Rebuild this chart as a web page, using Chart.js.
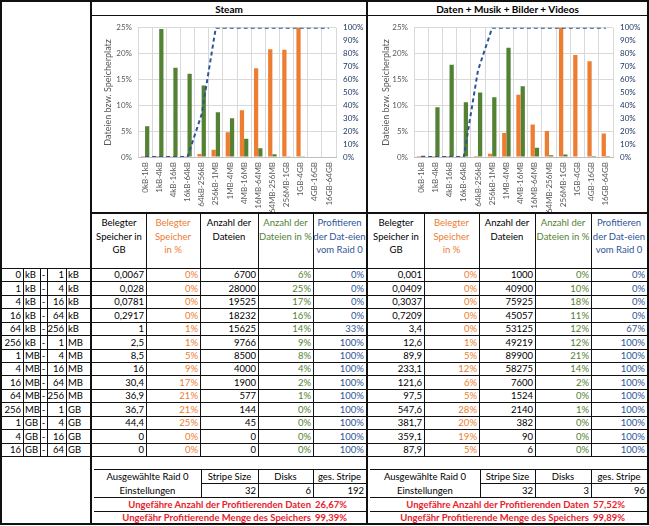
<!DOCTYPE html>
<html>
<head>
<meta charset="utf-8">
<script src="https://cdn.jsdelivr.net/npm/chart.js@4.4.0/dist/chart.umd.min.js"></script>
<style>
  body { margin: 0; background: #fff; font-family: Lato, sans-serif; }
  #sheet { position: relative; width: 649px; height: 526px; overflow: hidden; background: #fff; }
  .ln { position: absolute; background: #111; }
  .tx { position: absolute; box-sizing: border-box; display: flex; align-items: center;
        font-size: 9.5px; white-space: nowrap; color: #000; padding: 0 2px; }
  .hd { position: absolute; box-sizing: border-box; text-align: center; font-size: 9.5px;
        line-height: 13.5px; padding-top: 3px; white-space: nowrap; }
  canvas { position: absolute; }
</style>
</head>
<body>
<div id="sheet"></div>
<script>
// size classes (x axis categories + left table columns)
const categories = ['0kB-1kB', '1kB-4kB', '4kB-16kB', '16kB-64kB', '64kB-256kB', '256kB-1MB', '1MB-4MB',
  '4MB-16MB', '16MB-64MB', '64MB-256MB', '256MB-1GB', '1GB-4GB', '4GB-16GB', '16GB-64GB'];
const rangeFrom = [0, 1, 4, 16, 64, 256, 1, 4, 16, 64, 256, 1, 4, 16];
const unitFrom = ['kB', 'kB', 'kB', 'kB', 'kB', 'kB', 'MB', 'MB', 'MB', 'MB', 'MB', 'GB', 'GB', 'GB'];
const rangeTo = [1, 4, 16, 64, 256, 1, 4, 16, 64, 256, 1, 4, 16, 64];
const unitTo = ['kB', 'kB', 'kB', 'kB', 'kB', 'MB', 'MB', 'MB', 'MB', 'MB', 'GB', 'GB', 'GB', 'GB'];

// Steam
const steamGB = [0.0067, 0.028, 0.0781, 0.2917, 1, 2.5, 8.5, 16, 30.4, 36.9, 36.7, 44.4, 0, 0];
const steamSpacePct = [0.004, 0.016, 0.044, 0.165, 0.57, 1.41, 4.81, 9.05, 17.19, 20.87, 20.76, 25.11, 0, 0];
const steamFiles = [6700, 28000, 19525, 18232, 15625, 9766, 8500, 4000, 1900, 577, 144, 45, 0, 0];
const steamFilePct = [5.93, 24.78, 17.28, 16.13, 13.83, 8.64, 7.52, 3.54, 1.68, 0.51, 0.13, 0.04, 0, 0];
const steamRaidPct = [0, 0, 0, 0, 33, 100, 100, 100, 100, 100, 100, 100, 100, 100];
const steamSettings = [32, 6, 192];
const steamSummary = ['26,67%', '99,39%'];

// Daten + Musik + Bilder + Videos
const datenGB = [0.001, 0.0409, 0.3037, 0.7209, 3.4, 12.6, 89.9, 233.1, 121.6, 97.5, 547.6, 381.7, 359.1, 87.9];
const datenSpacePct = [0.0001, 0.002, 0.016, 0.037, 0.18, 0.65, 4.64, 12.04, 6.28, 5.04, 28.29, 19.72, 18.55, 4.54];
const datenFiles = [1000, 40900, 75925, 45057, 53125, 49219, 89900, 58275, 7600, 1524, 2140, 382, 90, 6];
const datenFilePct = [0.24, 9.62, 17.86, 10.6, 12.49, 11.58, 21.15, 13.71, 1.79, 0.36, 0.5, 0.09, 0.02, 0.001];
const datenRaidPct = [0, 0, 0, 0, 67, 100, 100, 100, 100, 100, 100, 100, 100, 100];
const datenSettings = [32, 3, 96];
const datenSummary = ['57,52%', '99,89%'];

const ORANGE = '#ED7D31', GREEN = '#548235', BLUE = '#2F5597', RED = '#E8212B';
const sheet = document.getElementById('sheet');

function line(x, y, w, h) {
  const d = document.createElement('div');
  d.className = 'ln';
  d.style.cssText = 'left:' + x + 'px;top:' + y + 'px;width:' + w + 'px;height:' + h + 'px;';
  sheet.appendChild(d);
}
function hl(x1, x2, y, t) { line(x1, y, x2 - x1, t || 1); }
function vl(x, y1, y2, t) { line(x, y1, t || 1, y2 - y1); }

function cell(str, x1, x2, y1, y2, align, color, bold) {
  const d = document.createElement('div');
  d.className = 'tx';
  d.textContent = str;
  d.style.left = x1 + 'px';
  d.style.top = y1 + 'px';
  d.style.width = (x2 - x1) + 'px';
  d.style.height = (y2 - y1) + 'px';
  d.style.justifyContent = align == 'r' ? 'flex-end' : (align == 'c' ? 'center' : 'flex-start');
  if (color) d.style.color = color;
  if (bold) d.style.fontWeight = 'bold';
  sheet.appendChild(d);
  return d;
}
function head(html, x1, x2, color) {
  const d = document.createElement('div');
  d.className = 'hd';
  d.innerHTML = html;
  d.style.left = x1 + 'px';
  d.style.top = '213px';
  d.style.width = (x2 - x1) + 'px';
  if (color) d.style.color = color;
  sheet.appendChild(d);
}
function fmt(v) { return String(v).replace('.', ','); }
function rowTop(i) { return 268 + Math.round(i * 13.43); }

// frame
hl(0, 649, 0, 2); hl(0, 649, 523, 2);
vl(0, 0, 525, 2); vl(647, 0, 525, 2);
vl(90, 0, 525, 2); vl(366, 0, 525, 2);
hl(92, 647, 15); hl(92, 647, 212, 2);

// titles
cell('Steam', 92, 366, 2, 15, 'c', '#000', true).style.fontSize = '10px';
cell('Daten + Musik + Bilder + Videos', 368, 647, 2, 15, 'c', '#000', true).style.fontSize = '10px';

// table
function block(cols, gb, spacePct, files, filePct, raidPct, settings, summary) {
  head('Belegter<br>Speicher in<br>GB', cols[0], cols[1]);
  head('Belegter<br>Speicher<br>in %', cols[1], cols[2], ORANGE);
  head('Anzahl der<br>Dateien', cols[2], cols[3]);
  head('Anzahl der<br>Dateien in %', cols[3], cols[4], GREEN);
  head('Profitieren<br>der Dat-eien<br>vom Raid 0', cols[4], cols[5], BLUE);
  for (let c = 1; c < 5; c++) vl(cols[c], 213, 456);
  for (let i = 0; i < categories.length; i++) {
    const y1 = rowTop(i), y2 = rowTop(i + 1);
    cell(fmt(gb[i]), cols[0], cols[1], y1, y2, 'r');
    cell(Math.round(spacePct[i]) + '%', cols[1], cols[2], y1, y2, 'r', ORANGE);
    cell(String(files[i]), cols[2], cols[3], y1, y2, 'r');
    cell(Math.round(filePct[i]) + '%', cols[3], cols[4], y1, y2, 'r', GREEN);
    cell(raidPct[i] + '%', cols[4], cols[5], y1, y2, 'r', BLUE);
  }
  // settings area
  const a = cols[0] + 2, e = cols[5];
  const s1 = cols[2] + (cols === steamCols ? 1 : 1), s2 = cols[3], s3 = cols[4];
  hl(a, e, 469); hl(s1, e, 483); hl(a, e, 497); hl(a, e, 511);
  vl(s1, 469, 497); vl(s2, 469, 497); vl(s3, 469, 497);
  cell('Ausgewählte Raid 0', a, s1, 469, 483, 'c');
  cell('Einstellungen', a, s1, 483, 497, 'c');
  cell('Stripe Size', s1, s2, 469, 483, 'c');
  cell('Disks', s2, s3, 469, 483, 'c');
  cell('ges. Stripe', s3, e, 469, 483, 'c');
  cell(String(settings[0]), s1, s2, 483, 497, 'r');
  cell(String(settings[1]), s2, s3, 483, 497, 'r');
  cell(String(settings[2]), s3, e, 483, 497, 'r');
  cell('Ungefähre Anzahl der Profitierenden Daten', a - 60, s3, 497, 511, 'r', RED, true);
  cell('Ungefähr Profitierende Menge des Speichers', a - 60, s3, 511, 523, 'r', RED, true);
  cell(summary[0], s3, e, 497, 511, 'l', RED, true);
  cell(summary[1], s3, e, 511, 523, 'l', RED, true);
}
const steamCols = [92, 146, 200, 258, 313, 366];
const datenCols = [368, 424, 479, 535, 591, 647];

// left size columns
hl(0, 647, 268);
for (let i = 0; i < categories.length; i++) {
  const y1 = rowTop(i), y2 = rowTop(i + 1);
  hl(0, 647, y2);
  cell(String(rangeFrom[i]), 2, 23, y1, y2, 'r');
  cell(unitFrom[i], 23, 40, y1, y2, 'l');
  cell('-', 40, 47, y1, y2, 'c');
  cell(String(rangeTo[i]), 47, 66, y1, y2, 'r');
  cell(unitTo[i], 66, 90, y1, y2, 'l');
}
[23, 40, 47, 66].forEach(x => vl(x, 268, 456));

block(steamCols, steamGB, steamSpacePct, steamFiles, steamFilePct, steamRaidPct, steamSettings, steamSummary);
block(datenCols, datenGB, datenSpacePct, datenFiles, datenFilePct, datenRaidPct, datenSettings, datenSummary);

// charts
Chart.defaults.font.family = 'Lato';
function drawChart(left, width, spacePct, filePct, raidPct, rightW, titlePad) {
  const c = document.createElement('canvas');
  c.width = width; c.height = 196;
  c.style.left = left + 'px'; c.style.top = '16px';
  sheet.appendChild(c);
  new Chart(c, {
    data: {
      labels: categories,
      datasets: [
        { type: 'line', data: raidPct, yAxisID: 'y1', borderColor: BLUE, borderWidth: 2,
          borderDash: [4, 3], pointRadius: 0, tension: 0, order: 0 },
        { type: 'bar', data: spacePct, yAxisID: 'y', backgroundColor: ORANGE,
          barPercentage: 1, categoryPercentage: 0.6, order: 1 },
        { type: 'bar', data: filePct, yAxisID: 'y', backgroundColor: GREEN,
          barPercentage: 1, categoryPercentage: 0.6, order: 2 }
      ]
    },
    options: {
      responsive: false,
      animation: false,
      layout: { padding: { top: 9, left: 0, right: 0, bottom: 0 } },
      plugins: { legend: { display: false }, tooltip: { enabled: false } },
      scales: {
        x: {
          grid: { color: '#D9D9D9', drawTicks: false, offset: true },
          border: { color: '#BFBFBF' },
          ticks: { autoSkip: false, minRotation: 90, maxRotation: 90, padding: 5,
                   color: '#595959', font: { size: 8 } },
          afterFit: s => { s.height = 55; }
        },
        y: {
          position: 'left', min: 0, max: 25,
          grid: { color: '#D9D9D9', drawTicks: false },
          border: { display: false },
          ticks: { stepSize: 5, padding: 6, color: '#595959', font: { size: 8 }, callback: v => v + '%' },
          title: { display: true, text: 'Dateien bzw. Speicherplatz', color: '#595959',
                   font: { size: 9 }, padding: { top: titlePad, bottom: 0 } },
          afterFit: s => { s.width = 46; }
        },
        y1: {
          position: 'right', min: 0, max: 100,
          grid: { display: false, drawTicks: false },
          border: { display: false },
          ticks: { stepSize: 10, padding: 7, color: '#203864', font: { size: 8 }, callback: v => v + '%' },
          afterFit: s => { s.width = rightW; }
        }
      }
    }
  });
}
drawChart(92, 274, steamSpacePct, steamFilePct, steamRaidPct, 30, 11);
drawChart(368, 279, datenSpacePct, datenFilePct, datenRaidPct, 34, 13);
</script>
</body>
</html>
